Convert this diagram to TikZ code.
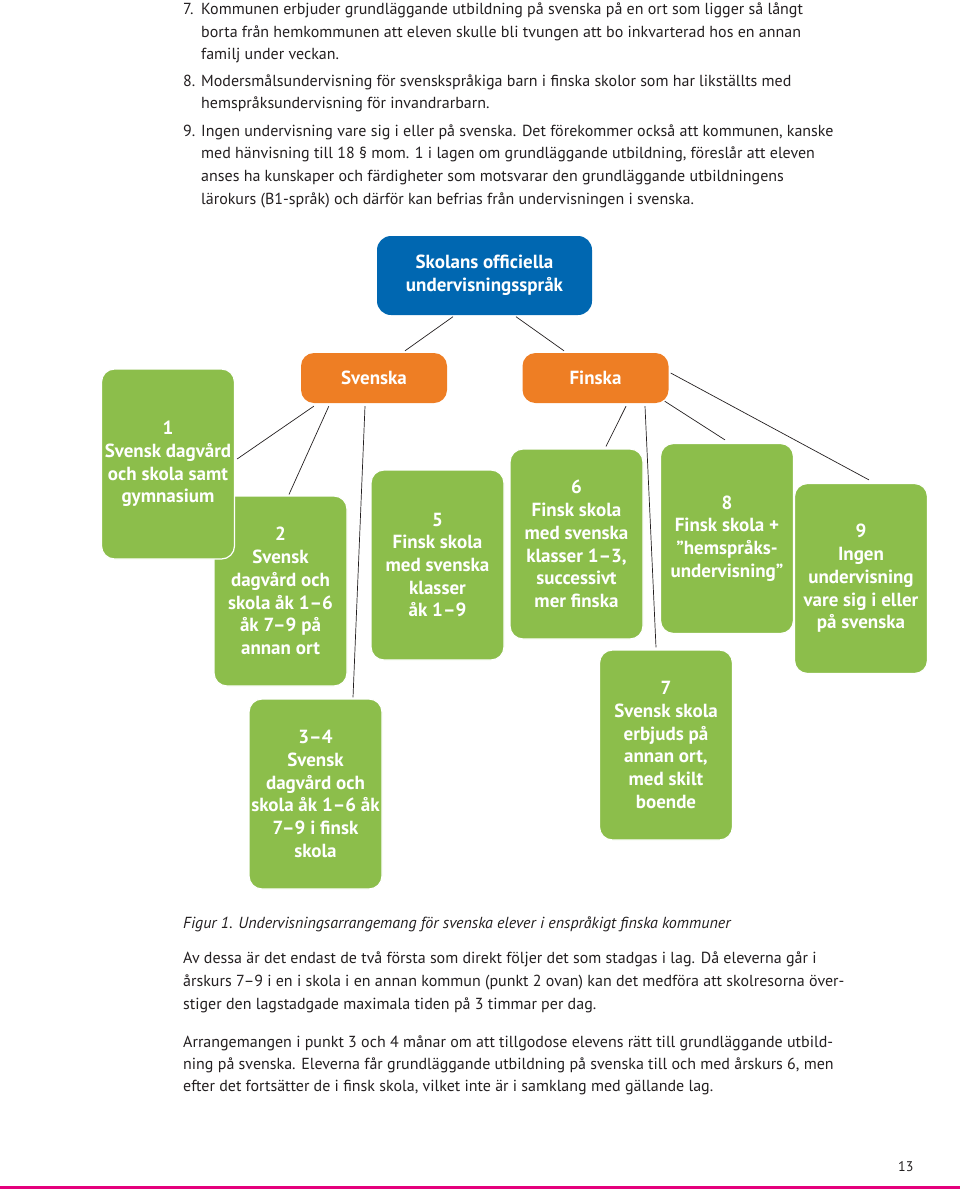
\documentclass[tikz,border=0pt]{standalone}
\usepackage{fontspec}
\setmainfont{PT Sans}
\usetikzlibrary{calc}

\definecolor{skolgreen}{RGB}{140,190,75}
\definecolor{skolorange}{RGB}{238,126,36}
\definecolor{skolblue}{RGB}{0,103,177}
\definecolor{pagepink}{RGB}{228,0,124}
\definecolor{inktext}{RGB}{35,31,32}

\newcommand\boxfont{\fontsize{19}{22.7}\selectfont\bfseries}
\newcommand\bodyfont{\fontsize{16}{23}\selectfont}

\tikzset{
  greenbox/.style={draw=white, line width=1.2pt, fill=skolgreen, rounded corners=13pt,
    minimum width=133pt, minimum height=190pt, inner sep=0pt, text=white, align=center, font=\boxfont},
  langbox/.style={fill=skolorange, rounded corners=13pt, minimum width=146pt, minimum height=50pt,
    inner sep=0pt, text=white, font=\boxfont},
  topbox/.style={fill=skolblue, rounded corners=14pt, minimum width=215pt, minimum height=79pt,
    inner sep=0pt, text=white, align=center, font=\boxfont},
  link/.style={draw=inktext, line width=0.7pt},
  bodyline/.style={anchor=base west, inner sep=0pt, text=inktext, font=\bodyfont},
}

\begin{document}
\begin{tikzpicture}[x=1pt, y=-1pt]
  \useasboundingbox (0,0) rectangle (960,1189);

  % list above the figure
  \node[bodyline] (n7) at (183,14) {7.};
  \node[bodyline] (p7a) at (201,14) {Kommunen erbjuder grundläggande utbildning på svenska på en ort som ligger så långt};
  \node[bodyline] (p7b) at (201,37) {borta från hemkommunen att eleven skulle bli tvungen att bo inkvarterad hos en annan};
  \node[bodyline] (p7c) at (201,59) {familj under veckan.};
  \node[bodyline] (n8) at (183,86) {8.};
  \node[bodyline] (p8a) at (201,86) {Modersmålsundervisning för svenskspråkiga barn i finska skolor som har likställts med};
  \node[bodyline] (p8b) at (201,108) {hemspråksundervisning för invandrarbarn.};
  \node[bodyline] (n9) at (183,136) {9.};
  \node[bodyline] (p9a) at (201,136) {Ingen undervisning vare sig i eller på svenska. Det förekommer också att kommunen, kanske};
  \node[bodyline] (p9b) at (201,158) {med hänvisning till 18 § mom. 1 i lagen om grundläggande utbildning, föreslår att eleven};
  \node[bodyline] (p9c) at (201,181) {anses ha kunskaper och färdigheter som motsvarar den grundläggande utbildningens};
  \node[bodyline] (p9d) at (201,204) {lärokurs (B1-språk) och därför kan befrias från undervisningen i svenska.};

  % the tree
  \node[topbox] (top) at (484.5,275.5) {Skolans officiella\\undervisningsspråk};
  \node[langbox] (svenska) at (374,378) {Svenska};
  \node[langbox] (finska) at (595.5,378) {Finska};

  \node[greenbox] (b2) at (280.5,591) {2\\Svensk\\dagvård och\\skola åk 1–6\\åk 7–9 på\\annan ort};
  \node[greenbox] (b1) at (168,464) {1\\Svensk dagvård\\och skola samt\\gymnasium};
  \node[greenbox] (b34) at (315.5,794) {3–4\\Svensk\\dagvård och\\skola åk 1–6 åk\\7–9 i finsk\\skola};
  \node[greenbox] (b5) at (437.5,565) {5\\Finsk skola\\med svenska\\klasser\\åk 1–9};
  \node[greenbox] (b6) at (576.5,544) {6\\Finsk skola\\med svenska\\klasser 1–3,\\successivt\\mer finska};
  \node[greenbox] (b7) at (666,745) {7\\Svensk skola\\erbjuds på\\annan ort,\\med skilt\\boende};
  \node[greenbox] (b8) at (727,538.5) {8\\Finsk skola +\\”hemspråks-\\undervisning”};
  \node[greenbox] (b9) at (861,578.5) {9\\Ingen\\undervisning\\vare sig i eller\\på svenska};

  \draw[link] ($(top.south)+(-31.5,1.5)$) -- ($(svenska.north)+(31,-2)$);
  \draw[link] ($(top.south)+(31.5,1.5)$) -- ($(finska.north)+(-31.5,-2)$);
  \draw[link] ($(svenska.south west)+(13,3)$) -- ($(b1.east)+(2,-5)$);
  \draw[link] ($(svenska.south west)+(28,3)$) -- ($(b2.north)+(8.5,-1)$);
  \draw[link] ($(svenska.south)+(-9,3)$) -- ($(b34.north)+(37.5,-1)$);
  \draw[link] ($(finska.south)+(30.5,3)$) -- ($(b6.north)+(29.5,-2)$);
  \draw[link] ($(finska.south)+(49.5,3)$) -- ($(b7.north)+(-10,-2)$);
  \draw[link] ($(finska.south east)+(-4,-2)$) -- ($(b8.north)+(-2,-3)$);
  \draw[link] ($(finska.east)+(2,-5)$) -- ($(b9.north)+(8,-3)$);

  % caption and text below
  \node[bodyline, font=\bodyfont\itshape] (caption) at (183,928) {Figur 1. Undervisningsarrangemang för svenska elever i enspråkigt finska kommuner};
  \node[bodyline] (q1a) at (183,963) {Av dessa är det endast de två första som direkt följer det som stadgas i lag. Då eleverna går i};
  \node[bodyline] (q1b) at (183,986) {årskurs 7–9 i en i skola i en annan kommun (punkt 2 ovan) kan det medföra att skolresorna över-};
  \node[bodyline] (q1c) at (183,1009) {stiger den lagstadgade maximala tiden på 3 timmar per dag.};
  \node[bodyline] (q2a) at (183,1047) {Arrangemangen i punkt 3 och 4 månar om att tillgodose elevens rätt till grundläggande utbild-};
  \node[bodyline] (q2b) at (183,1069) {ning på svenska. Eleverna får grundläggande utbildning på svenska till och med årskurs 6, men};
  \node[bodyline] (q2c) at (183,1091) {efter det fortsätter de i finsk skola, vilket inte är i samklang med gällande lag.};

  \node[bodyline, font=\fontsize{14}{16}\selectfont] (pagenum) at (898,1171) {13};
  \fill[pagepink] (0,1186) rectangle (960,1189);
\end{tikzpicture}
\end{document}
